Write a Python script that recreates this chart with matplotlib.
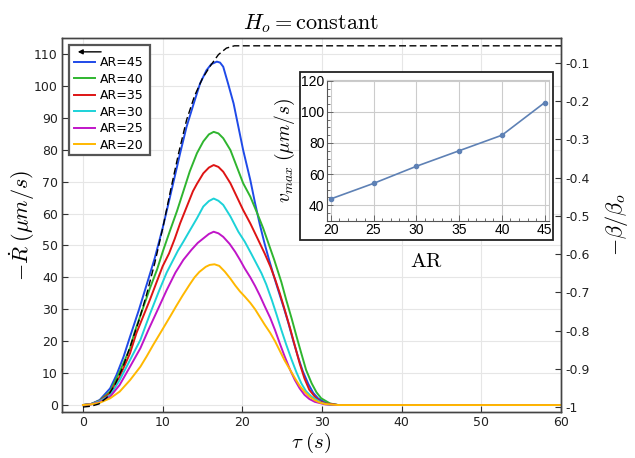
import matplotlib

matplotlib.use("Agg")
import matplotlib.pyplot as plt
from matplotlib.patches import Rectangle
from matplotlib.ticker import MultipleLocator

plt.rcParams["mathtext.fontset"] = "cm"
plt.rcParams["axes.unicode_minus"] = False
plt.rcParams["font.family"] = "DejaVu Sans"

# ---- data ----
tau_45 = [0, 1, 2.1, 3.4, 4.2, 5.1, 5.9, 7.0, 8.0, 9.0, 10.0, 10.9, 11.6, 12.2, 13.0,
          13.9, 14.7, 15.5, 16.1, 16.8, 17.2, 17.6, 18.2, 18.9, 19.5, 20.1, 21.0, 21.6,
          22.2, 22.8, 23.3, 24.0, 24.5, 25.2, 25.8, 26.4, 27.0, 27.6, 28.3, 28.9, 29.5,
          30.5, 32, 60]
rdot_45 = [0, 0.3, 1.6, 5.2, 9.4, 15.2, 21.4, 29.7, 37.8, 46, 55.5, 65, 72.5, 79, 87.2,
           94.5, 100.8, 104.9, 106.8, 107.6, 107.3, 106, 100.8, 94.5, 87.2, 79.9, 70.5,
           63.2, 56.5, 50.5, 46, 40, 36, 30.5, 25.5, 20, 15, 10.5, 6.5, 3.8, 2.1, 0.6,
           0, 0]

tau_40 = [0, 1, 2.1, 3.4, 4.6, 5.9, 6.5, 8.4, 9.3, 10.0, 10.9, 11.8, 12.6, 13.4, 14.3,
          15.1, 15.8, 16.4, 17.0, 17.6, 18.5, 19.3, 20.1, 21.0, 21.8, 22.6, 23.3, 24.0,
          24.9, 25.5, 26.2, 26.8, 27.4, 28.0, 28.7, 29.3, 29.9, 31, 32, 60]
rdot_40 = [0, 0.3, 1.4, 4.2, 10.4, 17.8, 23.0, 36.6, 42.5, 48, 54.5, 60.8, 67, 73.2,
           78.9, 82.6, 84.8, 85.6, 85.1, 83.6, 79.9, 74.7, 69.5, 65.3, 60.5, 55.5, 50.5,
           45.5, 38.5, 33, 27, 21.5, 16.2, 11, 6.8, 4, 2.1, 0.5, 0, 0]

tau_35 = [0, 1, 2.1, 3.4, 4.6, 5.9, 6.7, 8.4, 10.0, 10.8, 11.5, 12.2, 13.0, 13.8, 14.3,
          15.1, 15.8, 16.4, 17.0, 17.6, 18.5, 19.3, 20.1, 21.0, 22.0, 22.8, 23.5, 24.1,
          24.7, 25.3, 26.0, 26.6, 27.2, 27.8, 28.4, 29.1, 29.7, 30.4, 32, 60]
rdot_35 = [0, 0.3, 1.3, 3.7, 8.9, 16.2, 22.5, 33, 43.5, 47.5, 52, 57, 62, 67, 69.3, 72.6,
           74.4, 75.2, 74.6, 73.1, 69.5, 65.3, 61.1, 56.9, 51.7, 47.5, 43.5, 39.5, 35,
           30, 24, 18.5, 13, 8.3, 4.8, 2.6, 1.2, 0.5, 0, 0]

tau_30 = [0, 1, 2.1, 3.4, 4.6, 5.9, 7.2, 8.4, 9.5, 10.5, 11.9, 12.6, 13.2, 14.3, 15.1,
          15.8, 16.4, 17.0, 17.6, 18.5, 19.5, 20.3, 21.1, 22.4, 23.0, 23.7, 24.3, 24.9,
          25.5, 26.2, 26.8, 27.4, 28.0, 28.7, 29.9, 31, 60]
rdot_30 = [0, 0.3, 1.2, 3.1, 7.8, 14.1, 20.4, 28.5, 35.5, 41.5, 48.3, 51.2, 53.8, 58.5,
           62.2, 63.9, 64.7, 64.0, 62.7, 59.1, 54.3, 51.2, 47.5, 41.3, 37.8, 32.9, 28.3,
           23.5, 19, 14.1, 10.2, 6.8, 4.3, 2.6, 0.7, 0, 0]

tau_25 = [0, 1, 2.1, 3.4, 4.6, 5.9, 7.2, 8.2, 9.4, 10.5, 11.6, 12.6, 13.6, 14.4, 15.1,
          15.8, 16.4, 17.0, 17.6, 18.4, 19.1, 19.7, 20.3, 21.0, 21.6, 22.2, 22.8, 23.5,
          24.1, 24.7, 25.3, 26.0, 26.6, 27.2, 27.8, 28.4, 29.1, 30.4, 32, 60]
rdot_25 = [0, 0.2, 0.9, 2.6, 6.3, 12, 17.8, 23.5, 30, 36, 41.5, 45.5, 48.6, 50.8, 52.2,
           53.6, 54.3, 53.8, 52.7, 50.5, 48, 45.5, 42.8, 40, 37.3, 34.3, 31, 27.3, 23.5,
           19.3, 15.3, 11, 7.8, 5.2, 3.2, 1.9, 1.0, 0.2, 0, 0]

tau_20 = [0, 1, 2.1, 3.4, 4.6, 5.9, 7.2, 8.0, 8.8, 10, 11.0, 11.7, 12.5, 13.4, 14.0,
          14.6, 15.4, 15.9, 16.5, 17.1, 17.8, 18.5, 19.1, 19.7, 20.3, 21.0, 21.6, 22.2,
          22.8, 23.5, 24.1, 24.7, 25.3, 26.0, 26.6, 27.2, 27.8, 28.4, 29.1, 29.8, 30.4,
          32, 60]
rdot_20 = [0, 0.2, 0.7, 2.1, 4.2, 7.8, 12, 15.3, 18.8, 23.8, 28, 31, 34.3, 37.8, 40,
           41.7, 43.3, 43.9, 44.1, 43.6, 41.8, 39.6, 37.5, 35.6, 34, 32, 30, 27.6, 25.2,
           22.6, 20, 17, 14, 11, 8.4, 6, 4.2, 2.7, 1.5, 0.7, 0.3, 0, 0]

# -beta/beta_o (right axis), dashed
tau_beta = [0, 1, 2, 3, 4, 5, 6, 7, 8, 9, 10, 11, 12, 13, 14, 15, 16, 17, 18, 19, 20, 60]
beta = [-1.0, -0.998, -0.992, -0.975, -0.942, -0.896, -0.837, -0.775, -0.704, -0.624,
        -0.533, -0.432, -0.336, -0.249, -0.186, -0.140, -0.107, -0.078, -0.061, -0.055,
        -0.055, -0.055]

# inset: peak velocity vs aspect ratio
ar_vals = [20, 25, 30, 35, 40, 45]
vmax_vals = [44, 54, 65, 75, 85, 106]

curves = [
    ("AR=45", tau_45, rdot_45, "#1f4ae8"),
    ("AR=40", tau_40, rdot_40, "#2fb52f"),
    ("AR=35", tau_35, rdot_35, "#de1414"),
    ("AR=30", tau_30, rdot_30, "#1cd2d8"),
    ("AR=25", tau_25, rdot_25, "#c015c8"),
    ("AR=20", tau_20, rdot_20, "#ffb800"),
]

fig = plt.figure(figsize=(6.35, 4.58), dpi=100)
ax = fig.add_axes([0.0976, 0.1004, 0.7859, 0.8166])
ax2 = ax.twinx()

handles = []
for label, t, r, c in curves:
    (ln,) = ax.plot(t, r, color=c, lw=1.4, label=label)
    handles.append(ln)

ax2.plot(tau_beta, beta, color="k", lw=1.0, linestyle=(0, (5, 2.5)))

ax.set_xlim(-2.64, 60)
ax.set_ylim(-2.19, 115.0)
ax2.set_ylim(-1.0131, -0.0346)
ax.set_xticks(range(0, 61, 10))
ax.set_yticks(range(0, 111, 10))
ax2.set_yticks([-1, -0.9, -0.8, -0.7, -0.6, -0.5, -0.4, -0.3, -0.2, -0.1])
ax2.set_yticklabels(["-1", "-0.9", "-0.8", "-0.7", "-0.6", "-0.5", "-0.4", "-0.3",
                     "-0.2", "-0.1"])

ax.grid(True, color="#e6e6e6", lw=0.8)
ax.set_axisbelow(True)
for a in (ax, ax2):
    a.tick_params(direction="in", length=4, width=0.8, color="#333333", labelsize=9,
                  labelcolor="#222222", pad=3)
    for s in a.spines.values():
        s.set_color("#444444")
        s.set_linewidth(1.0)

ax.set_title(r"$H_o = \mathrm{constant}$", fontsize=16, pad=6)
ax.set_xlabel(r"$\tau\;(s)$", fontsize=15)
ax.xaxis.set_label_coords(0.5, -0.05)
ax.set_ylabel(r"$-\dot{R}\;(\mu m/s)$", fontsize=16)
ax.yaxis.set_label_coords(-0.05, 0.5)
ax2.set_ylabel(r"$-\beta/\beta_o$", fontsize=16)
ax2.yaxis.set_label_coords(1.085, 0.5)

# legend: box, arrow for the dashed curve, then the AR entries
box = Rectangle((0.014, 0.687), 0.162, 0.294, transform=ax2.transAxes,
                facecolor="white", edgecolor="#555555", lw=1.6, zorder=5)
ax2.add_patch(box)
ax2.annotate("", xy=(0.026, 0.963), xytext=(0.084, 0.963), xycoords="axes fraction",
             arrowprops=dict(arrowstyle="-|>", color="k", lw=1.0, mutation_scale=7),
             zorder=6)
leg = ax2.legend(handles, [c[0] for c in curves], loc="upper left",
                 bbox_to_anchor=(0.024, 0.951), borderaxespad=0, borderpad=0,
                 fontsize=9, handlelength=1.7, handletextpad=0.4, labelspacing=0.28,
                 frameon=False)
leg.set_zorder(7)

# inset frame and axes
frame = Rectangle((0.4724, 0.476), 0.3984, 0.3668, transform=fig.transFigure,
                  facecolor="white", edgecolor="#222222", lw=1.3, zorder=3)
fig.add_artist(frame)

ax_in = fig.add_axes([0.5145, 0.5181, 0.3501, 0.3072], zorder=4)
ax_in.plot(ar_vals, vmax_vals, color="#5e81b5", lw=1.2, marker="o", ms=3)
ax_in.set_xlim(19.53, 45.5)
ax_in.set_ylim(30, 120.5)
ax_in.set_xticks(ar_vals)
ax_in.set_yticks([40, 60, 80, 100, 120])
ax_in.xaxis.set_minor_locator(MultipleLocator(1))
ax_in.yaxis.set_minor_locator(MultipleLocator(5))
ax_in.grid(True, which="major", color="#cccccc", lw=0.8)
ax_in.tick_params(which="both", direction="in", color="#555555", width=0.6,
                  labelsize=10, pad=1.5)
ax_in.tick_params(which="major", length=4)
ax_in.tick_params(which="minor", length=2)
for lab in ax_in.get_xticklabels() + ax_in.get_yticklabels():
    lab.set_family("Liberation Sans")
ax_in.spines["left"].set_color("#555555")
ax_in.spines["bottom"].set_color("#555555")
ax_in.spines["top"].set_color("#c8c8c8")
ax_in.spines["right"].set_color("#c8c8c8")
ax_in.set_ylabel(r"$v_{max}\;(\mu m/s)$", fontsize=14)
ax_in.yaxis.set_label_coords(-0.135, 0.5)
ax_in.set_xlabel(r"$\mathrm{AR}$", fontsize=15)
ax_in.xaxis.set_label_coords(0.45, -0.215)

fig.savefig("out.png", dpi=100)
